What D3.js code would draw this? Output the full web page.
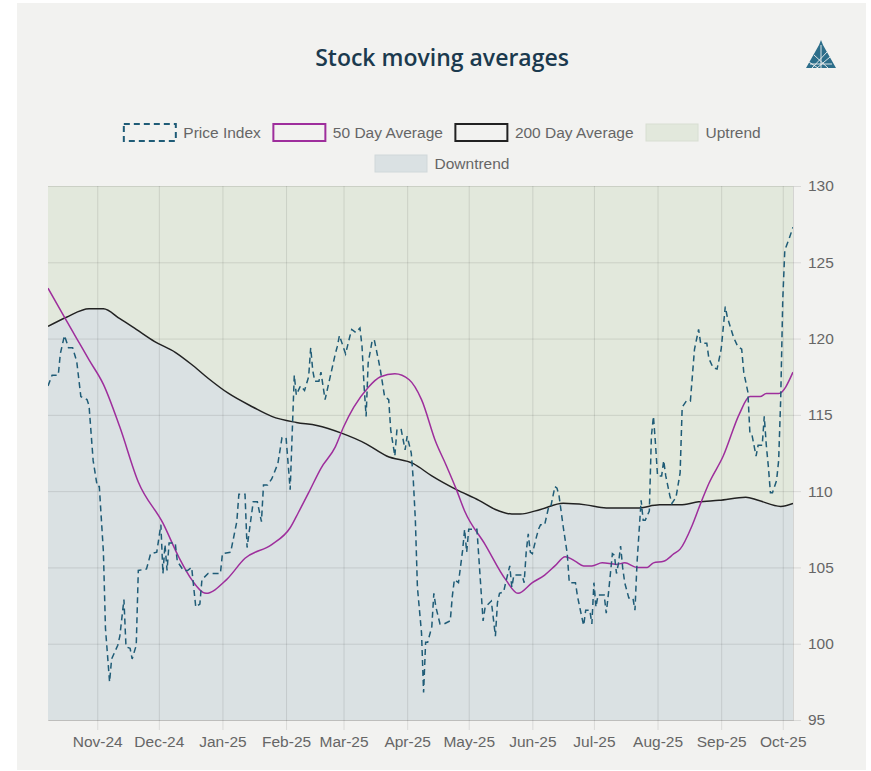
<!DOCTYPE html>
<html><head><meta charset="utf-8">
<script src="https://cdn.jsdelivr.net/npm/d3@7/dist/d3.min.js"></script>
<style>body{margin:0;background:#fff;} svg{display:block;}</style>
</head><body><svg id="c" width="871" height="771"></svg>
<script>
const titleText = "Stock moving averages";
const legendLabels = ["Price Index", "50 Day Average", "200 Day Average", "Uptrend", "Downtrend"];
const xTickDates = ["2024-11-01","2024-12-01","2025-01-01","2025-02-01","2025-03-01","2025-04-01","2025-05-01","2025-06-01","2025-07-01","2025-08-01","2025-09-01","2025-10-01"];
const xTickLabels = ["Nov-24","Dec-24","Jan-25","Feb-25","Mar-25","Apr-25","May-25","Jun-25","Jul-25","Aug-25","Sep-25","Oct-25"];
const yTicks = [95,100,105,110,115,120,125,130];

const priceDates = ["2024-10-08","2024-10-10","2024-10-13","2024-10-14","2024-10-16","2024-10-18","2024-10-20","2024-10-22","2024-10-24","2024-10-27","2024-10-28","2024-10-30",
"2024-11-01","2024-11-02","2024-11-04","2024-11-05","2024-11-07","2024-11-08","2024-11-11","2024-11-12","2024-11-14","2024-11-15","2024-11-17","2024-11-18","2024-11-20","2024-11-21","2024-11-25","2024-11-27","2024-11-30",
"2024-12-02","2024-12-03","2024-12-04","2024-12-05","2024-12-06","2024-12-09","2024-12-10","2024-12-13","2024-12-15","2024-12-17","2024-12-19","2024-12-21","2024-12-22","2024-12-25","2024-12-28","2024-12-31",
"2025-01-01","2025-01-05","2025-01-08","2025-01-09","2025-01-12","2025-01-13","2025-01-16","2025-01-18","2025-01-20","2025-01-21","2025-01-23","2025-01-25","2025-01-28","2025-01-30",
"2025-02-01","2025-02-03","2025-02-05","2025-02-06","2025-02-08","2025-02-10","2025-02-12","2025-02-13","2025-02-14","2025-02-15","2025-02-17","2025-02-18","2025-02-20","2025-02-22","2025-02-25","2025-02-26","2025-02-27","2025-02-28",
"2025-03-02","2025-03-04","2025-03-05","2025-03-07","2025-03-09","2025-03-10","2025-03-11","2025-03-12","2025-03-13","2025-03-15","2025-03-16","2025-03-18","2025-03-19","2025-03-21","2025-03-23","2025-03-24","2025-03-26","2025-03-27","2025-03-29","2025-03-31",
"2025-04-01","2025-04-03","2025-04-04","2025-04-05","2025-04-06","2025-04-08","2025-04-09","2025-04-10","2025-04-11","2025-04-13","2025-04-14","2025-04-15","2025-04-17","2025-04-19","2025-04-22","2025-04-23","2025-04-24","2025-04-26","2025-04-28","2025-04-29","2025-04-30",
"2025-05-01","2025-05-05","2025-05-06","2025-05-08","2025-05-09","2025-05-12","2025-05-14","2025-05-15","2025-05-16","2025-05-18","2025-05-19","2025-05-21","2025-05-22","2025-05-23","2025-05-27","2025-05-28","2025-05-29","2025-05-30","2025-05-31",
"2025-06-01","2025-06-03","2025-06-04","2025-06-05","2025-06-07","2025-06-09","2025-06-10","2025-06-12","2025-06-13","2025-06-14","2025-06-16","2025-06-18","2025-06-19","2025-06-22","2025-06-23","2025-06-25","2025-06-26","2025-06-27","2025-06-29","2025-06-30",
"2025-07-01","2025-07-02","2025-07-03","2025-07-06","2025-07-07","2025-07-08","2025-07-10","2025-07-11","2025-07-12","2025-07-13","2025-07-14","2025-07-15","2025-07-16","2025-07-18","2025-07-20","2025-07-21","2025-07-22","2025-07-24","2025-07-25","2025-07-26","2025-07-28","2025-07-29","2025-07-30","2025-07-31",
"2025-08-01","2025-08-03","2025-08-04","2025-08-05","2025-08-07","2025-08-08","2025-08-10","2025-08-12","2025-08-13","2025-08-15","2025-08-17","2025-08-19","2025-08-21","2025-08-22","2025-08-25","2025-08-26","2025-08-28","2025-08-30",
"2025-09-01","2025-09-03","2025-09-04","2025-09-07","2025-09-09","2025-09-11","2025-09-12","2025-09-14","2025-09-15","2025-09-16","2025-09-18","2025-09-19","2025-09-21","2025-09-22","2025-09-23","2025-09-24","2025-09-25","2025-09-26","2025-09-28","2025-09-29","2025-09-30",
"2025-10-01","2025-10-02","2025-10-04","2025-10-06"];
const priceValues = [116.9,117.6,117.6,119.0,120.2,119.4,119.4,118.5,116.2,116.0,115.6,112.0,
110.3,110.3,106.0,101.0,97.5,99.0,99.9,100.5,102.9,99.8,99.7,99.0,99.9,104.8,104.9,105.9,106.0,
107.8,104.6,106.5,104.8,106.6,106.6,105.4,104.8,104.8,105.0,102.4,102.6,104.2,104.6,104.6,104.6,
105.9,106.0,108.0,109.8,109.8,106.3,109.3,109.3,108.0,110.4,110.4,110.8,111.8,113.5,
113.5,110.1,117.6,116.3,116.9,116.6,117.5,119.4,117.9,117.2,117.2,117.8,116.0,117.2,119.0,119.5,120.2,119.8,
119.0,120.1,120.6,120.4,120.7,119.5,116.9,114.9,118.4,119.9,119.9,118.6,117.9,116.2,116.0,114.0,112.3,114.0,114.1,112.7,
113.6,112.5,110.7,108.1,103.7,100.7,96.8,100.1,100.1,101.1,103.3,102.4,101.3,101.3,101.5,103.1,104.2,104.0,106.1,107.5,106.0,
107.5,107.5,105.5,101.5,102.4,102.8,100.5,102.7,103.3,103.4,104.0,105.1,103.7,104.5,104.5,104.0,106.0,107.2,106.0,
105.9,107.0,107.5,107.8,107.8,109.0,109.0,110.3,110.2,109.7,107.7,105.9,104.0,104.0,103.1,101.8,101.2,102.2,102.2,101.3,
104.0,102.4,103.2,103.2,102.0,103.2,105.9,105.8,104.6,105.3,106.4,105.0,104.0,103.0,103.0,102.2,105.3,109.4,108.1,108.1,108.7,113.6,114.9,113.1,
111.0,111.0,112.0,111.0,109.7,109.2,109.6,111.2,115.5,115.9,115.9,119.3,120.6,119.7,119.7,118.7,118.1,118.0,
119.3,122.1,121.4,120.1,119.5,119.3,117.8,116.5,113.8,113.7,112.3,113.0,113.0,114.9,113.0,111.6,109.9,109.9,110.7,112.0,116.0,
122.5,125.8,126.5,127.3];

const ma50Dates = ["2024-10-08","2024-10-16","2024-10-22","2024-10-28","2024-11-04","2024-11-12","2024-11-21","2024-12-03","2024-12-11","2024-12-17","2024-12-24",
"2025-01-03","2025-01-12","2025-01-25","2025-02-03","2025-02-07","2025-02-12","2025-02-18","2025-02-25","2025-03-01","2025-03-06","2025-03-13","2025-03-19","2025-03-26",
"2025-04-02","2025-04-08","2025-04-15","2025-04-20","2025-04-25","2025-04-29","2025-05-09","2025-05-19","2025-05-25","2025-06-01","2025-06-07","2025-06-12","2025-06-17","2025-06-22","2025-06-26","2025-06-30",
"2025-07-05","2025-07-12","2025-07-16","2025-07-22","2025-07-27","2025-07-30","2025-08-04","2025-08-09","2025-08-12","2025-08-18","2025-08-22","2025-08-26",
"2025-09-02","2025-09-10","2025-09-15","2025-09-20","2025-09-23","2025-09-29","2025-10-06"];
const ma50Values = [123.3,121.4,120.0,118.6,117.0,114.2,110.6,107.9,105.6,104.2,103.3,
104.2,105.6,106.5,107.6,108.6,109.9,111.5,112.9,114.2,115.5,116.8,117.5,117.7,
117.3,116.0,113.2,111.7,110.1,108.7,106.5,104.2,103.3,104.0,104.5,105.1,105.7,105.4,105.1,105.1,
105.3,105.2,105.3,105.0,105.0,105.3,105.4,105.9,106.2,107.8,109.2,110.5,
112.3,115.1,116.2,116.2,116.4,116.4,117.8];

const ma200Dates = ["2024-10-08","2024-10-17","2024-10-28","2024-11-04","2024-11-12","2024-11-20","2024-11-29","2024-12-09","2024-12-17","2024-12-25",
"2025-01-04","2025-01-16","2025-01-25","2025-02-06","2025-02-16","2025-02-28","2025-03-12","2025-03-22","2025-04-04","2025-04-13","2025-04-25",
"2025-05-06","2025-05-14","2025-05-22","2025-05-26","2025-06-05","2025-06-16","2025-06-27","2025-07-07","2025-07-22","2025-08-02","2025-08-12","2025-08-21","2025-08-31",
"2025-09-13","2025-09-19","2025-09-30","2025-10-06"];
const ma200Values = [120.8,121.4,121.95,121.95,121.3,120.6,119.8,119.1,118.3,117.4,
116.4,115.5,114.9,114.5,114.3,113.8,113.1,112.3,111.8,111.0,110.1,
109.4,108.8,108.5,108.5,108.8,109.2,109.1,108.9,108.9,109.1,109.1,109.3,109.4,
109.6,109.4,109.0,109.2];

const parse = d3.timeParse("%Y-%m-%d");
const price = priceDates.map((d,i)=>({date:parse(d), v:priceValues[i]}));
const ma50 = ma50Dates.map((d,i)=>({date:parse(d), v:ma50Values[i]}));
const ma200 = ma200Dates.map((d,i)=>({date:parse(d), v:ma200Values[i]}));

const C = {panel:"#f2f2f0", up:"#e2e8dc", down:"#dae1e3", price:"#1f5c77", ma50:"#9e2e9c", ma200:"#222222", grid:"rgba(0,0,0,0.1)", text:"#666666", title:"#1b3a4e"};
const m = {l:48, r:793, t:186, b:720};
const svg = d3.select("#c");
svg.append("rect").attr("x",17).attr("y",3).attr("width",849).attr("height",767).attr("fill",C.panel);

const x = d3.scaleTime().domain(d3.extent(price, d=>d.date)).range([m.l, m.r]);
const y = d3.scaleLinear().domain([95,130]).range([m.b, m.t]);

svg.append("defs").append("clipPath").attr("id","clip").append("rect")
  .attr("x",m.l).attr("y",m.t).attr("width",m.r-m.l).attr("height",m.b-m.t);

// trend fills
const curve = d3.curveMonotoneX;
svg.append("path").datum(ma200).attr("fill",C.up)
  .attr("d", d3.area().curve(curve).x(d=>x(d.date)).y0(m.t).y1(d=>y(d.v)));
svg.append("path").datum(ma200).attr("fill",C.down)
  .attr("d", d3.area().curve(curve).x(d=>x(d.date)).y0(m.b).y1(d=>y(d.v)));

// grid + axes
const xt = xTickDates.map(parse);
const gx = svg.append("g").attr("transform",`translate(0,${m.b})`)
  .call(d3.axisBottom(x).tickValues(xt).tickFormat((d,i)=>xTickLabels[i]).tickSize(-(m.b-m.t)).tickSizeOuter(0).tickPadding(16));
gx.select(".domain").attr("stroke","rgba(0,0,0,0.12)");
gx.selectAll(".tick line").attr("stroke",C.grid).attr("y2", -(m.b-m.t)).attr("y1", 10);
gx.selectAll(".tick text").attr("fill",C.text).attr("font-family","'Liberation Sans', Arial, sans-serif").attr("font-size","15.5px");

const gy = svg.append("g").attr("transform",`translate(${m.r},0)`)
  .call(d3.axisRight(y).tickValues(yTicks).tickSize(-(m.r-m.l)).tickSizeOuter(0).tickPadding(15));
gy.select(".domain").attr("stroke","rgba(0,0,0,0.12)");
gy.selectAll(".tick line").attr("stroke",C.grid).attr("x1",8);
gy.selectAll(".tick text").attr("fill",C.text).attr("font-family","'Liberation Sans', Arial, sans-serif").attr("font-size","15.5px");

const plot = svg.append("g").attr("clip-path","url(#clip)");
plot.append("path").datum(ma200).attr("fill","none").attr("stroke",C.ma200).attr("stroke-width",1.5)
  .attr("d", d3.line().curve(curve).x(d=>x(d.date)).y(d=>y(d.v)));
plot.append("path").datum(ma50).attr("fill","none").attr("stroke",C.ma50).attr("stroke-width",1.5)
  .attr("d", d3.line().curve(curve).x(d=>x(d.date)).y(d=>y(d.v)));
plot.append("path").datum(price).attr("fill","none").attr("stroke",C.price).attr("stroke-width",1.5)
  .attr("stroke-dasharray","6,4")
  .attr("d", d3.line().x(d=>x(d.date)).y(d=>y(d.v)));

// title
svg.append("text").attr("x",442).attr("y",66).attr("text-anchor","middle")
  .attr("font-family","'Open Sans', sans-serif").attr("font-weight",600).attr("font-size","23px")
  .attr("fill",C.title).text(titleText);

// logo
const logo = svg.append("g").attr("transform","translate(806,40)");
logo.append("path").attr("d","M15,0 L17,5 L30,28 L0,28 L13,5 Z").attr("fill","#2d6e8a");
logo.append("path").attr("d","M6,28 L21,12 M11,28 L24,17 M3,22 L12,28 M8,15 L22,28 M15,5 L15,28 M4,24 L26,24")
  .attr("stroke","#f2f2f0").attr("stroke-width",0.9).attr("fill","none");

// legend
const legStyles = [
  {stroke:C.price, dash:"6,4", fill:"none", sw:2},
  {stroke:C.ma50, dash:null, fill:"none", sw:2},
  {stroke:C.ma200, dash:null, fill:"none", sw:2},
  {stroke:"#d8ded2", dash:null, fill:C.up, sw:1},
  {stroke:"#d0d8da", dash:null, fill:C.down, sw:1}
];
const rows = [[0,1,2,3],[4]];
const rowY = [132.5, 163.5];
const boxW = 52, boxH = 17, gapBT = 8, gapItem = 12;
const leg = svg.append("g");
rows.forEach((row, ri)=>{
  const g = leg.append("g");
  let cx = 0;
  row.forEach(idx=>{
    const st = legStyles[idx];
    const it = g.append("g").attr("transform",`translate(${cx},0)`);
    it.append("rect").attr("x",0.5).attr("y",rowY[ri]-boxH/2).attr("width",boxW).attr("height",boxH)
      .attr("fill",st.fill).attr("stroke",st.stroke).attr("stroke-width",st.sw)
      .attr("stroke-dasharray",st.dash);
    const t = it.append("text").attr("x",boxW+gapBT).attr("y",rowY[ri]).attr("dy","0.35em")
      .attr("font-family","'Liberation Sans', Arial, sans-serif").attr("font-size","15.5px")
      .attr("fill",C.text).text(legendLabels[idx]);
    cx += boxW + gapBT + t.node().getComputedTextLength() + gapItem;
  });
  const total = cx - gapItem;
  g.attr("transform",`translate(${442 - total/2},0)`);
});
</script></body></html>
